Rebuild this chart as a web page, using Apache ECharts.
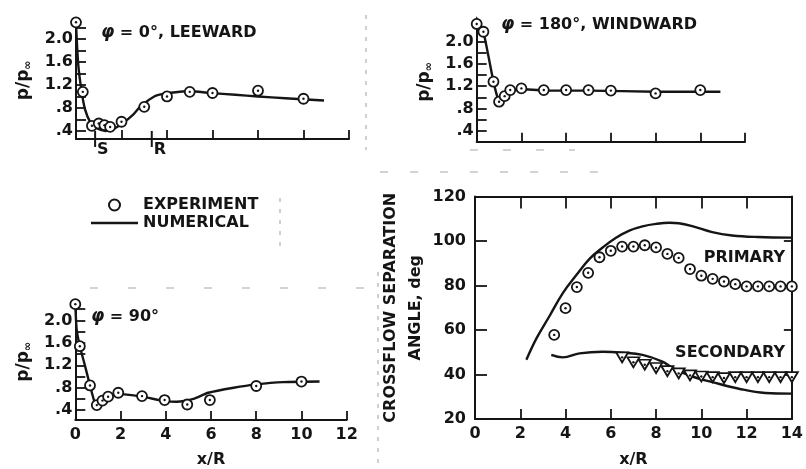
<!DOCTYPE html>
<html><head><meta charset="utf-8">
<script src="https://cdn.jsdelivr.net/npm/echarts@6/dist/echarts.min.js"></script>
<style>html,body{margin:0;padding:0;background:#fff}#c{width:806px;height:469px}</style>
</head><body><div id="c"></div>
<script>
// ---- Panel 1: phi = 0 deg, leeward ----
const leeExpX = [0, 0.3, 0.7, 1.0, 1.25, 1.5, 2, 3, 4, 5, 6, 8, 10];
const leeExpY = [2.29, 1.08, 0.49, 0.53, 0.50, 0.47, 0.56, 0.82, 1.0, 1.08, 1.06, 1.1, 0.96];
const leeNumX = [0, 0.1, 0.25, 0.4, 0.62, 0.9, 1.3, 1.68, 2.07, 2.5, 2.81, 3.2, 3.55, 4.28, 5.0, 5.9, 7.0, 8.0, 9.2, 10.9];
const leeNumY = [2.29, 1.55, 1.08, 0.77, 0.56, 0.45, 0.40, 0.44, 0.54, 0.68, 0.82, 0.94, 1.02, 1.07, 1.09, 1.06, 1.03, 1.0, 0.97, 0.93];
const markerX = [0.84, 3.33];
const markerLabels = ['S', 'R'];
// ---- Panel 2: phi = 180 deg, windward ----
const winExpX = [0, 0.3, 0.75, 1.0, 1.25, 1.5, 2, 3, 4, 5, 6, 8, 10];
const winExpY = [2.32, 2.18, 1.28, 0.92, 1.02, 1.13, 1.16, 1.13, 1.13, 1.13, 1.12, 1.07, 1.13];
const winNumX = [0, 0.3, 0.75, 1.0, 1.25, 1.5, 2.0, 3, 5, 8, 10.9];
const winNumY = [2.32, 2.18, 1.28, 0.92, 1.02, 1.12, 1.15, 1.12, 1.12, 1.1, 1.1];
// ---- Panel 3: phi = 90 deg ----
const s90ExpX = [0, 0.2, 0.65, 0.95, 1.2, 1.45, 1.9, 2.95, 3.95, 4.95, 5.95, 8, 10];
const s90ExpY = [2.29, 1.54, 0.84, 0.49, 0.57, 0.64, 0.71, 0.65, 0.58, 0.50, 0.58, 0.83, 0.91];
const s90NumX = [0, 0.06, 0.2, 0.43, 0.65, 0.87, 0.97, 1.2, 1.45, 1.9, 2.94, 3.97, 4.48, 5.22, 5.88, 7.0, 8.0, 9.2, 10.8];
const s90NumY = [2.29, 1.84, 1.54, 1.19, 0.84, 0.52, 0.48, 0.56, 0.63, 0.69, 0.64, 0.56, 0.55, 0.60, 0.71, 0.80, 0.86, 0.90, 0.91];
// ---- Panel 4: crossflow separation angle ----
const priExpX = [3.5, 4, 4.5, 5, 5.5, 6, 6.5, 7, 7.5, 8, 8.5, 9, 9.5, 10, 10.5, 11, 11.5, 12, 12.5, 13, 13.5, 14];
const priExpY = [57.8, 69.8, 79.3, 85.7, 92.7, 95.6, 97.5, 97.5, 98.1, 97.1, 94.2, 92.4, 87.4, 84.4, 83, 81.8, 80.6, 79.6, 79.6, 79.6, 79.6, 79.6];
const priNumX = [2.27, 2.71, 3.3, 3.88, 4.47, 5.06, 5.64, 6.23, 6.82, 7.4, 8.0, 8.6, 9.0, 9.6, 10.48, 11.36, 12.5, 14];
const priNumY = [46.6, 56.1, 66.4, 76.6, 84.6, 92.0, 97.1, 101.5, 104.7, 106.6, 107.7, 108.2, 108.0, 106.7, 104.0, 102.5, 101.8, 101.5];
const secNumX = [3.37, 3.88, 4.62, 5.64, 6.52, 7.4, 8.28, 8.72, 9.6, 10.48, 11.66, 12.83, 14];
const secNumY = [48.8, 47.7, 49.5, 50.2, 49.8, 48.8, 45.8, 43.0, 39.1, 36.6, 33.6, 31.7, 31.4];
const secExpX = [6.5, 7, 7.5, 8, 8.5, 9, 9.5, 10, 10.5, 11, 11.5, 12, 12.5, 13, 13.5, 14];
const secExpY = [47.7, 45.5, 44.4, 42.9, 41.5, 40.5, 39.6, 39.1, 38.8, 38.4, 38.8, 38.8, 38.8, 38.8, 38.8, 38.8];
// ---- ticks ----
const pTickValues = [0.4, 0.6, 0.8, 1.0, 1.2, 1.4, 1.6, 1.8, 2.0, 2.2];
const pLabelValues = [0.4, 0.8, 1.2, 1.6, 2.0];
const pLabelTexts = ['.4', '.8', '1.2', '1.6', '2.0'];

const FONT = "'DejaVu Sans', sans-serif";
const INK = '#151515';
const zip = (xs, ys) => xs.map((x, i) => [x, ys[i]]);
const txt = (size) => ({ fontFamily: FONT, fontWeight: 'bold', fontSize: size || 16, color: INK });
const axLine = { show: true, onZero: false, lineStyle: { color: INK, width: 2 } };

function pFormatter(v) {
  const i = pLabelValues.findIndex(t => Math.abs(t - v) < 1e-6);
  return i >= 0 ? pLabelTexts[i] : '';
}
const pName = {
  name: 'p/p{s|∞}', nameLocation: 'middle', nameRotate: 90, nameGap: 42,
  nameTextStyle: Object.assign(txt(17), { rich: { s: { fontFamily: FONT, fontWeight: 'bold', fontSize: 11, color: INK, padding: [9, 0, 0, 0] } } })
};
function pYAxis(grid, min, max, extra) {
  return Object.assign({
    type: 'value', gridIndex: grid, min: min, max: max,
    axisLine: axLine, splitLine: { show: false },
    axisTick: { show: true, inside: true, length: 10, customValues: pTickValues, lineStyle: { color: INK, width: 1.8 } },
    axisLabel: Object.assign(txt(16), { margin: 3, customValues: pLabelValues, formatter: pFormatter })
  }, pName, extra || {});
}
function pXAxis(grid, showLabels, extra) {
  return Object.assign({
    type: 'value', gridIndex: grid, min: 0, max: 12, interval: 2,
    axisLine: axLine, splitLine: { show: false },
    axisTick: { show: true, inside: true, length: 9, lineStyle: { color: INK, width: 1.8 } },
    axisLabel: Object.assign(txt(16), { show: showLabels, margin: 7 })
  }, extra || {});
}
function lineS(name, xi, xs, ys, smooth) {
  return { type: 'line', name: name, xAxisIndex: xi, yAxisIndex: xi, data: zip(xs, ys), symbol: 'none',
    smooth: smooth, clip: false, z: 2, lineStyle: { color: INK, width: 2.4 }, itemStyle: { color: INK } };
}
function expS(name, xi, xs, ys, symbol, rotate, size) {
  return { type: 'scatter', name: name, xAxisIndex: xi, yAxisIndex: xi, data: zip(xs, ys), symbol: symbol,
    symbolRotate: rotate || 0, symbolSize: size || 10, clip: false, z: 3,
    itemStyle: { color: '#ffffff', borderColor: INK, borderWidth: 1.8, opacity: 1 } };
}
function dotS(xi, xs, ys) {
  return { type: 'scatter', name: 'dot', xAxisIndex: xi, yAxisIndex: xi, data: zip(xs, ys), symbol: 'circle',
    symbolSize: 2.4, clip: false, z: 4, silent: true, itemStyle: { color: INK, opacity: 1 } };
}
const phiRich = { i: { fontFamily: FONT, fontStyle: 'italic', fontWeight: 'bold', fontSize: 17, color: INK } };
const scan = { stroke: '#a8a8a8', lineWidth: 1.1, lineDash: [4, 7] };

const option = {
  animation: false,
  backgroundColor: '#ffffff',
  color: [INK],
  textStyle: { fontFamily: FONT },
  title: [
    { text: '{i|φ} = 0°, LEEWARD', left: 101, top: 24, padding: 0, textStyle: Object.assign(txt(16), { rich: phiRich }) },
    { text: '{i|φ} = 180°, WINDWARD', left: 501, top: 16, padding: 0, textStyle: Object.assign(txt(16), { rich: phiRich }) },
    { text: '{i|φ} = 90°', left: 91, top: 308, padding: 0, textStyle: Object.assign(txt(16), { rich: phiRich }) },
    { text: 'PRIMARY', right: 21, top: 250, padding: 0, textStyle: txt(16) },
    { text: 'SECONDARY', right: 21, top: 345, padding: 0, textStyle: txt(16) }
  ],
  legend: {
    data: ['EXPERIMENT', { name: 'NUMERICAL', icon: 'path://M0,0H470V24H0Z', itemStyle: { color: INK } }],
    orient: 'vertical', left: 91, top: 197, padding: 0, symbolKeepAspect: true,
    itemWidth: 47, itemHeight: 11, itemGap: 2, itemTextGap: 7, selectedMode: false,
    textStyle: txt(16)
  },
  graphic: [
    { type: 'line', silent: true, shape: { x1: 366, y1: 15, x2: 366, y2: 150 }, style: scan },
    { type: 'line', silent: true, shape: { x1: 378, y1: 272, x2: 378, y2: 466 }, style: scan },
    { type: 'line', silent: true, shape: { x1: 280, y1: 198, x2: 280, y2: 252 }, style: scan },
    { type: 'line', silent: true, shape: { x1: 90, y1: 288, x2: 365, y2: 288 }, style: { stroke: '#a8a8a8', lineWidth: 1.1, lineDash: [8, 30] } },
    { type: 'line', silent: true, shape: { x1: 380, y1: 172, x2: 600, y2: 172 }, style: { stroke: '#a8a8a8', lineWidth: 1.1, lineDash: [8, 22] } },
    { type: 'line', silent: true, shape: { x1: 470, y1: 150, x2: 575, y2: 150 }, style: { stroke: '#a8a8a8', lineWidth: 1.1, lineDash: [8, 25] } }
  ],
  grid: [
    { left: 76, top: 21.75, width: 273, height: 117.25 },
    { left: 476.7, top: 22.3, width: 268.3, height: 119.4 },
    { left: 75.3, top: 303.6, width: 271.4, height: 118.1 },
    { left: 475, top: 196.5, width: 318.3, height: 226 }
  ],
  xAxis: [
    pXAxis(0, false),
    pXAxis(1, false),
    pXAxis(2, true, { name: 'x/R', nameLocation: 'middle', nameGap: 32, nameTextStyle: txt(16) }),
    { type: 'value', gridIndex: 3, min: 0, max: 14, interval: 2, axisLine: axLine, splitLine: { show: false },
      axisTick: { show: true, inside: true, length: 10, lineStyle: { color: INK, width: 1.8 } },
      axisLabel: Object.assign(txt(16), { margin: 7 }),
      name: 'x/R', nameLocation: 'middle', nameGap: 33, nameTextStyle: txt(16) },
    { type: 'value', gridIndex: 3, position: 'top', min: 0, max: 14, interval: 2, axisLine: axLine, splitLine: { show: false },
      axisTick: { show: true, inside: true, length: 12, lineStyle: { color: INK, width: 1.8 } },
      axisLabel: { show: false } }
  ],
  yAxis: [
    pYAxis(0, 0.26, 2.3),
    pYAxis(1, 0.2, 2.35, { axisLine: { show: true, onZero: false, symbol: ['none', 'arrow'], symbolSize: [7, 10], symbolOffset: [0, 6], lineStyle: { color: INK, width: 2 } } }),
    pYAxis(2, 0.224, 2.3),
    { type: 'value', gridIndex: 3, min: 20, max: 120, interval: 20, axisLine: axLine, splitLine: { show: false },
      axisTick: { show: true, inside: true, length: 12, lineStyle: { color: INK, width: 1.8 } },
      axisLabel: Object.assign(txt(16), { margin: 9 }),
      name: 'CROSSFLOW SEPARATION\nANGLE, deg', nameLocation: 'middle', nameRotate: 90, nameGap: 47,
      nameTextStyle: Object.assign(txt(16), { lineHeight: 25 }) },
    { type: 'value', gridIndex: 3, position: 'right', min: 20, max: 120, interval: 20, axisLine: axLine, splitLine: { show: false },
      axisTick: { show: true, inside: true, length: 8, lineStyle: { color: INK, width: 1.8 } },
      axisLabel: { show: false } }
  ],
  series: [
    lineS('NUMERICAL', 0, leeNumX, leeNumY, 0.3),
    expS('EXPERIMENT', 0, leeExpX, leeExpY, 'circle'),
    dotS(0, leeExpX, leeExpY),
    { type: 'scatter', name: 'markers', xAxisIndex: 0, yAxisIndex: 0, clip: false, z: 5, silent: true,
      data: markerX.map((x, i) => ({ value: [x, 0.26], name: markerLabels[i] })),
      symbol: 'rect', symbolSize: [2, 16], itemStyle: { color: INK, opacity: 1 },
      label: Object.assign(txt(16), { show: true, formatter: '{b}', position: [3, 11], textBorderWidth: 0, textBorderColor: 'transparent' }) },
    lineS('NUMERICAL', 1, winNumX, winNumY, 0.1),
    expS('EXPERIMENT', 1, winExpX, winExpY, 'circle'),
    dotS(1, winExpX, winExpY),
    lineS('NUMERICAL', 2, s90NumX, s90NumY, 0.2),
    expS('EXPERIMENT', 2, s90ExpX, s90ExpY, 'circle'),
    dotS(2, s90ExpX, s90ExpY),
    lineS('NUMERICAL', 3, priNumX, priNumY, 0.4),
    lineS('NUMERICAL', 3, secNumX, secNumY, 0.4),
    expS('EXPERIMENT', 3, priExpX, priExpY, 'circle'),
    dotS(3, priExpX, priExpY),
    expS('SECONDARY-EXP', 3, secExpX, secExpY, 'triangle', 180, [12, 10]),
    dotS(3, secExpX, secExpY)
  ]
};
const chart = echarts.init(document.getElementById('c'), null, { renderer: 'canvas' });
chart.setOption(option);
</script>
</body></html>
